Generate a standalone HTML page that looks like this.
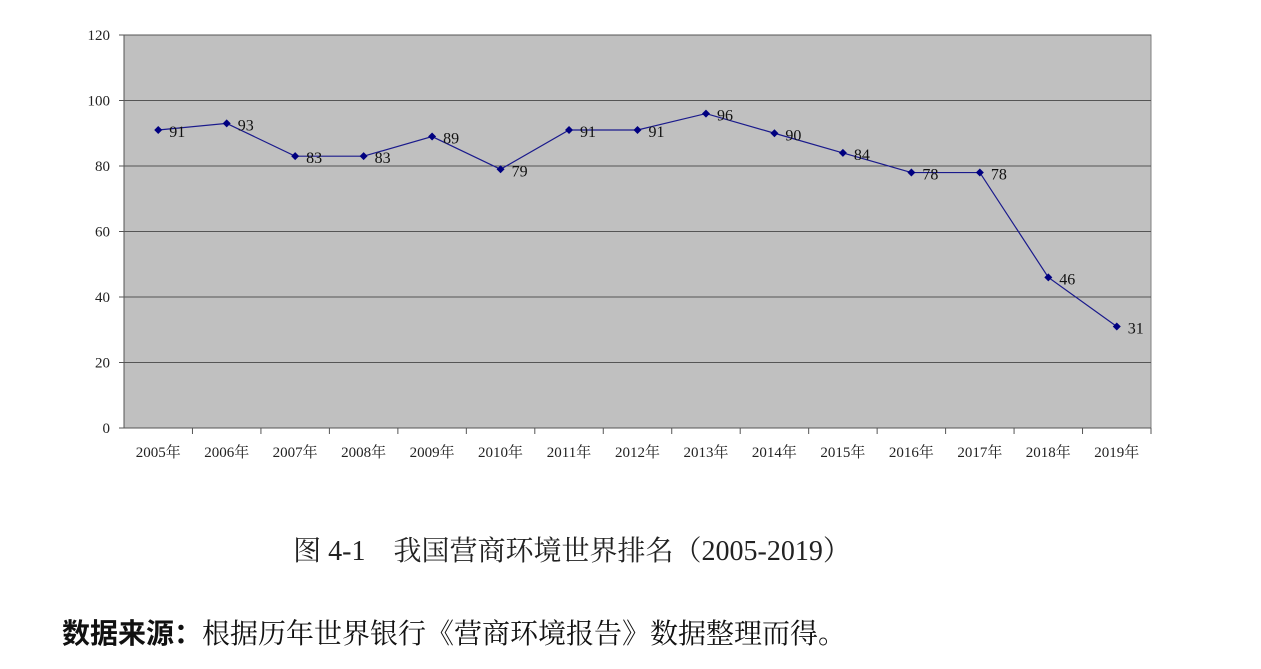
<!DOCTYPE html>
<html><head><meta charset="utf-8"><style>
body{margin:0;background:#fff;width:1261px;height:669px;overflow:hidden;font-family:"Liberation Serif","Noto Serif CJK SC",serif;}
</style></head><body>
<svg width="1261" height="669" style="position:absolute;left:0;top:0">
<g id="plot"></g>
<text x="572" y="560" font-size="28" text-anchor="middle" fill="#222" font-family="'Liberation Serif','Noto Serif CJK SC',serif">图 4-1　我国营商环境世界排名（2005-2019）</text>
<text x="62" y="643" font-size="28" fill="#111" font-family="'Liberation Serif','Noto Serif CJK SC',serif"><tspan font-weight="bold" font-family="'Noto Sans CJK SC',sans-serif">数据来源：</tspan>根据历年世界银行《营商环境报告》数据整理而得。</text>
</svg>
<script>
const categories=["2005年","2006年","2007年","2008年","2009年","2010年","2011年","2012年","2013年","2014年","2015年","2016年","2017年","2018年","2019年"];
const values=[91,93,83,83,89,79,91,91,96,90,84,78,78,46,31];
const yTicks=[0,20,40,60,80,100,120];
const L=124,R=1151,T=35,B=428,yMax=120;
const NS="http://www.w3.org/2000/svg";
const g=document.getElementById('plot');
const step=(R-L)/categories.length;
const xs=i=>L+step*(i+0.5);
const ys=v=>B-(v/yMax)*(B-T);
function mk(t,a,p){const e=document.createElementNS(NS,t);for(const k in a)e.setAttribute(k,a[k]);(p||g).appendChild(e);return e;}
const bg=mk('rect',{x:L,y:T,width:R-L,height:B-T,fill:'#c0c0c0',stroke:'#808080'});


yTicks.forEach(v=>{
 const ln=mk('line',{x1:L,x2:R,y1:ys(v),y2:ys(v),stroke:'#555','stroke-width':1});
 
 
 const tk=mk('line',{x1:L-5,x2:L,y1:ys(v),y2:ys(v),stroke:'#555'});
 
 
 const t=mk('text',{x:L-14,y:ys(v)+5,'text-anchor':'end','font-size':15,fill:'#222'});
 t.textContent=v;
 
 
});
const ax=mk('line',{x1:L,x2:L,y1:T,y2:B,stroke:'#555'});


categories.forEach((c,i)=>{
 const tk=mk('line',{x1:L+step*(i+1),x2:L+step*(i+1),y1:B,y2:B+6,stroke:'#555'});
 
 
 const t=mk('text',{x:xs(i),y:B+29,'text-anchor':'middle','font-size':15,fill:'#222'});
 t.textContent=c;
 
 
});
const line=mk('polyline',{points:values.map((v,i)=>xs(i)+','+ys(v)).join(' '),fill:'none',stroke:'#1a1a8c','stroke-width':1.2});


values.forEach((v,i)=>{
 const x=xs(i),y=ys(v);
 const m=mk('polygon',{points:`${x},${y-4} ${x+4},${y} ${x},${y+4} ${x-4},${y}`,fill:'#000080'});
 
 
 const t=mk('text',{x:x+11,y:y+7,'font-size':16,fill:'#111'});
 t.textContent=v;
 
 
});
</script>
</body></html>
